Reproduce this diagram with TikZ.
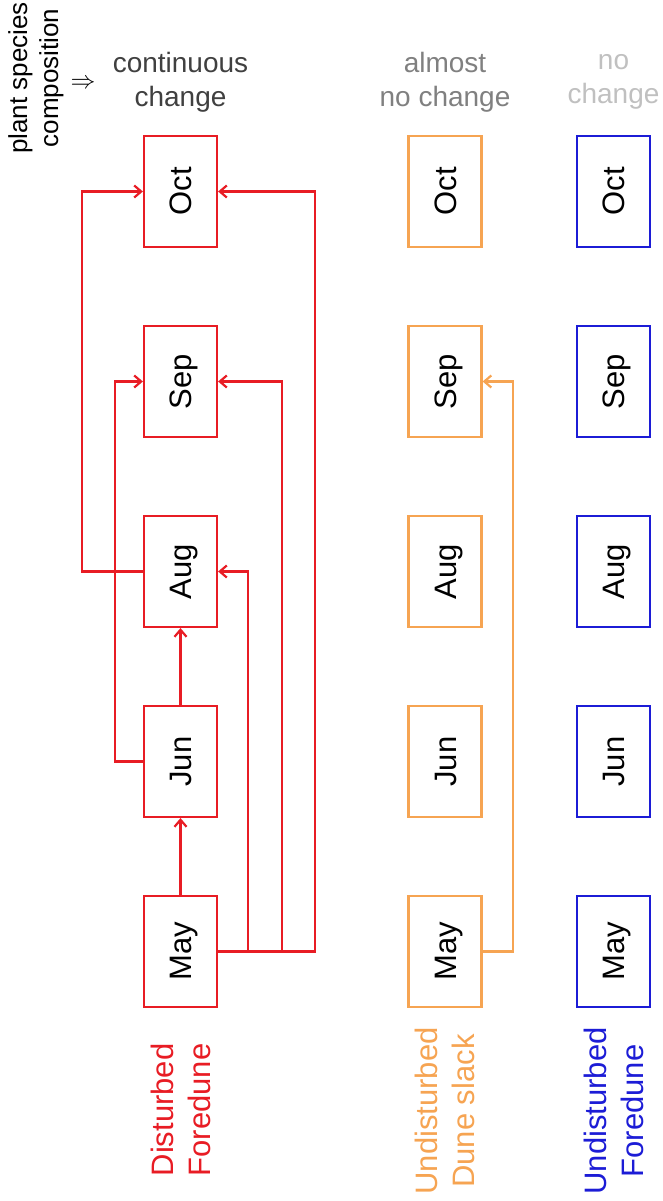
\documentclass[tikz,border=0pt]{standalone}
\usepackage{fontspec}
\setmainfont{Liberation Sans}
\usepackage{graphicx}
\usetikzlibrary{arrows.meta}
\definecolor{cred}{RGB}{232,28,36}
\definecolor{corange}{RGB}{246,164,82}
\definecolor{cblue}{RGB}{28,28,214}
\definecolor{gA}{RGB}{64,64,64}
\definecolor{gB}{RGB}{128,128,128}
\definecolor{gC}{RGB}{192,192,192}
\newcommand\mlab[1]{\rotatebox{90}{\raisebox{0pt}[22.2pt][0pt]{#1}}}
\begin{document}
\begin{tikzpicture}[x=1pt,y=-1pt,
  monthbox/.style={draw, line width=2.2pt, minimum width=73pt, minimum height=111pt, inner sep=0pt, text=black, font=\fontsize{31}{37}\selectfont},
  arr/.style={line width=2.2pt, -{Straight Barb[length=7pt,width=12pt]}},
  head/.style={align=center, font=\fontsize{28}{34}\selectfont},
  grp/.style={rotate=90, align=center, font=\fontsize{31}{37}\selectfont}
]
\useasboundingbox (0,0) rectangle (663,1201);
\foreach \m/\yy in {Oct/191.5, Sep/381.5, Aug/571.5, Jun/761.5, May/951.5} {
  \node[monthbox, draw=cred] (r\m) at (180.5,\yy) {\mlab{\m}};
  \node[monthbox, draw=corange] (o\m) at (445,\yy) {\mlab{\m}};
  \node[monthbox, draw=cblue] (b\m) at (613.5,\yy) {\mlab{\m}};
}
% headers
\node[rotate=90, align=center, font=\fontsize{26}{31}\selectfont] (plant) at (36,78) {plant species\\composition};
\node[font=\fontsize{26}{30}\selectfont] (impl) at (83,84) {$\Rightarrow$};
\node[head, text=gA] (h1) at (180.5,82) {continuous\\change};
\node[head, text=gB] (h2) at (445,82) {almost\\no change};
\node[head, text=gC] (h3) at (613.5,82) {no\\change};
% group labels
\node[grp, text=cred] (g1) at (180.5,1110) {Disturbed\\Foredune};
\node[grp, text=corange] (g2) at (445,1111) {Undisturbed\\Dune slack};
\node[grp, text=cblue] (g3) at (613.5,1111) {Undisturbed\\Foredune};
% red connectors
\draw[arr, cred] (rMay.north) -- (rJun.south);
\draw[arr, cred] (rJun.north) -- (rAug.south);
\coordinate (a1) at (248,571.5);
\coordinate (a2) at (282,381.5);
\coordinate (a3) at (315,191.5);
\draw[arr, cred] (rMay.east) -| (a1) -- (rAug.east);
\draw[arr, cred] (rMay.east) -| (a2) -- (rSep.east);
\draw[arr, cred] (rMay.east) -| (a3) -- (rOct.east);
\coordinate (l1) at (115,381.5);
\coordinate (l2) at (82,191.5);
\draw[arr, cred] (rJun.west) -| (l1) -- (rSep.west);
\draw[arr, cred] (rAug.west) -| (l2) -- (rOct.west);
% orange connector
\coordinate (o1) at (513,381.5);
\draw[arr, corange] (oMay.east) -| (o1) -- (oSep.east);
\end{tikzpicture}
\end{document}
